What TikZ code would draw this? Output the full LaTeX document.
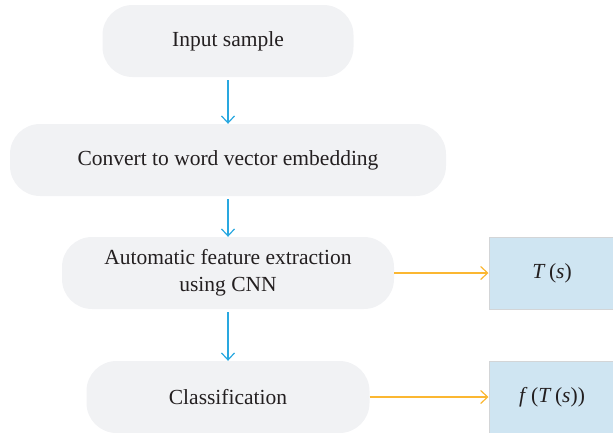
\documentclass[tikz,border=0pt]{standalone}
\usepackage{amsmath}
\usepackage{fontspec}
\setmainfont{Liberation Serif}
\usepackage{tikz}
\usetikzlibrary{arrows.meta}
\definecolor{boxgray}{HTML}{F1F2F4}
\definecolor{arrowblue}{HTML}{29A8E0}
\definecolor{arroworange}{HTML}{FBB731}
\definecolor{outblue}{HTML}{CFE5F2}
\definecolor{outline}{HTML}{D3D5D7}
\definecolor{txt}{HTML}{231F20}
\begin{document}
\begin{tikzpicture}[x=1pt, y=-1pt,
 every node/.style={text=txt, font=\fontsize{21.5}{27}\selectfont, align=center},
 stepbox/.style={fill=boxgray, rounded corners=30pt, inner sep=0pt},
 outbox/.style={fill=outblue, draw=outline, line width=1pt, inner sep=0pt},
 flow/.style={draw=arrowblue, line width=1.2pt, -{Straight Barb[length=7pt,width=13pt]}},
 feed/.style={draw=arroworange, line width=1.2pt, -{Straight Barb[length=7pt,width=13pt]}}]
\useasboundingbox (0,0) rectangle (613,432);
\node[stepbox, minimum width=251pt, minimum height=72pt] (input) at (228,41) {Input sample};
\node[stepbox, minimum width=436pt, minimum height=72pt] (embed) at (228,160) {Convert to word vector embedding};
\node[stepbox, minimum width=332pt, minimum height=72pt] (cnn) at (228,273) {Automatic feature extraction\\using CNN};
\node[stepbox, minimum width=283pt, minimum height=72pt] (classify) at (228,397) {Classification};
\node[outbox, minimum width=126pt, minimum height=72pt] (ts) at (552,273) {\textit{T}\,(\textit{s})};
\node[outbox, minimum width=126pt, minimum height=72pt] (fts) at (552,397) {\textit{f}\,(\textit{T}\,(\textit{s}))};
% vertical flow
\draw[flow] ([yshift=-3pt]input.south) -- (embed.north);
\draw[flow] ([yshift=-3pt]embed.south) -- (cnn.north);
\draw[flow] ([yshift=-3pt]cnn.south) -- (classify.north);
% outputs
\draw[feed] (cnn.east) -- (ts.west);
\draw[feed] (classify.east) -- (fts.west);
\end{tikzpicture}
\end{document}
